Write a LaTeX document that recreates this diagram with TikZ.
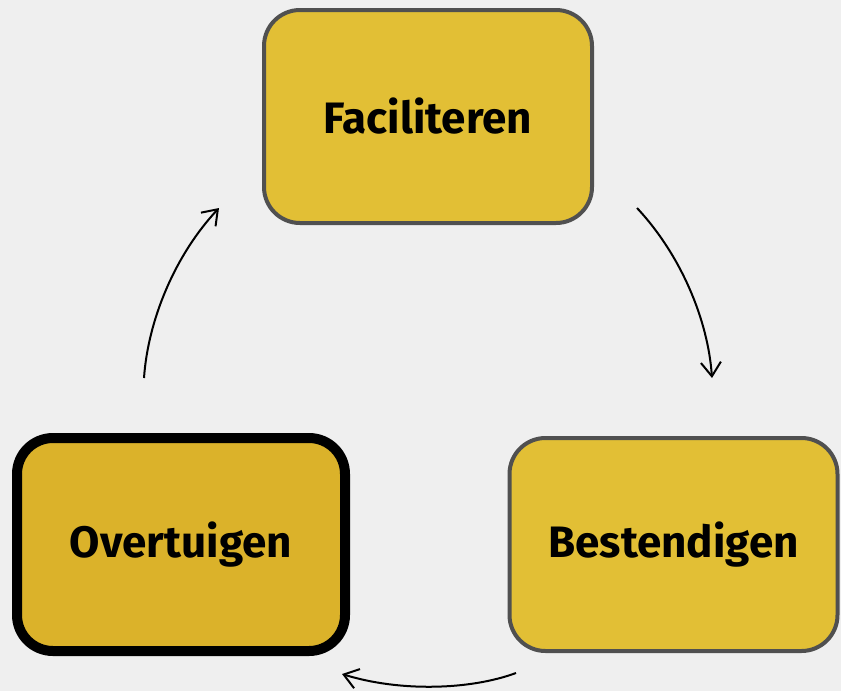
\documentclass[tikz,border=0pt]{standalone}
\usepackage{fontspec}
\setmainfont{Fira Sans}
\usetikzlibrary{arrows.meta}
\definecolor{bgcol}{HTML}{EFEFEF}
\definecolor{boxfill}{HTML}{E2BF35}
\definecolor{boxfilldark}{HTML}{DBB22A}
\definecolor{boxedge}{HTML}{505050}
\begin{document}
\begin{tikzpicture}[x=0.5pt,y=-0.5pt,
  stepbox/.style={draw=boxedge, line width=2pt, fill=boxfill, rounded corners=18pt,
    minimum width=164pt, minimum height=106.5pt, inner sep=0pt,
    font=\fontsize{22}{26}\selectfont\bfseries},
  activebox/.style={stepbox, draw=black, line width=5pt, fill=boxfilldark},
  flow/.style={line width=1pt, -{Straight Barb[length=7pt,width=10pt,line width=1pt]}}]
  % canvas
  \fill[bgcol] (0,0) rectangle (841,691);
  \useasboundingbox (0,0) rectangle (841,691);
  % the three steps
  \node[stepbox] (fac) at (428,116.5) {Faciliteren};
  \node[stepbox] (best) at (673.5,544.5) {Bestendigen};
  \node[activebox] (over) at (181,544.5) {Overtuigen};
  % connector end points
  \coordinate (facOut) at (637,208);
  \coordinate (bestIn) at (712,378);
  \coordinate (bestOut) at (516,673);
  \coordinate (overIn) at (342,674);
  \coordinate (overOut) at (144,378);
  \coordinate (facIn) at (219,208);
  % cycle arrows
  \draw[flow] (facOut) .. controls (681,255) and (708,320) .. (bestIn);
  \draw[flow] (bestOut) .. controls (470,690) and (400,692) .. (overIn);
  \draw[flow] (overOut) .. controls (148,320) and (175,255) .. (facIn);
\end{tikzpicture}
\end{document}
